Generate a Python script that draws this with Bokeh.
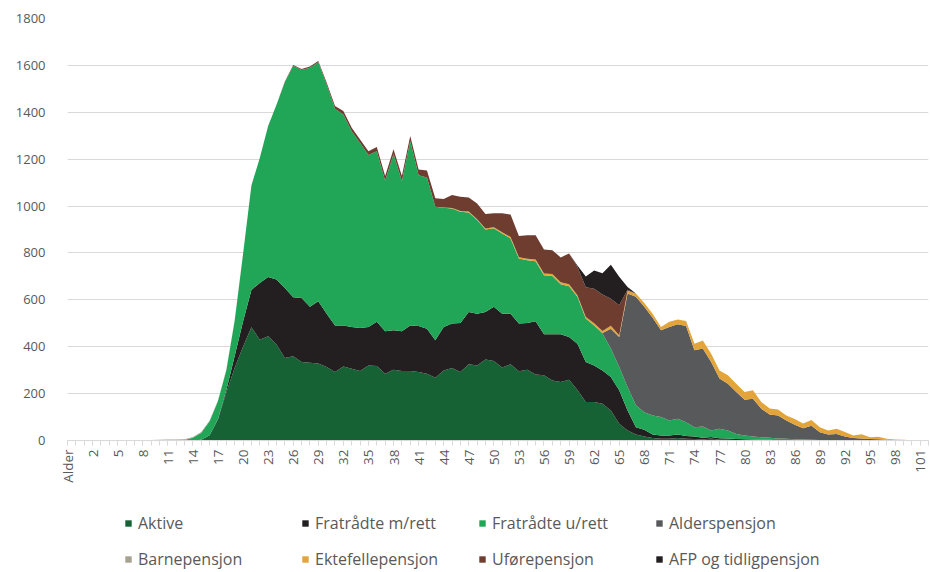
import math
from bokeh.plotting import figure
from bokeh.layouts import column
from bokeh.models import ColumnDataSource, FixedTicker, Legend, LegendItem, Range1d
from bokeh.embed import file_html
from bokeh.resources import INLINE

# Categories: "Alder" header followed by ages 0..102
categories = ["Alder"] + [str(a) for a in range(103)]

series_names = ["Aktive", "Fratrådte m/rett", "Fratrådte u/rett", "Alderspensjon",
                "Barnepensjon", "Ektefellepensjon", "Uførepensjon", "AFP og tidligpensjon"]
colors = ["#166234", "#231f20", "#21a657", "#58595b",
          "#a5a28f", "#e3a43a", "#6f3d2f", "#231f20"]

# values: first entry is the "Alder" category, then ages 0..102
aktive = [0,
          0, 0, 0, 0, 0, 0, 0, 0, 0, 0,
          0, 0, 0, 0, 0, 3, 22, 90, 205, 310,
          400, 483, 430, 445, 410, 352, 359, 335, 332, 328,
          313, 292, 316, 306, 296, 320, 318, 285, 302, 296,
          296, 292, 285, 268, 299, 309, 292, 325, 320, 345,
          339, 311, 325, 295, 302, 281, 278, 256, 249, 259,
          215, 164, 164, 157, 128, 71, 43, 26, 17, 11,
          7, 7, 11, 7, 6, 4, 8, 3, 3, 2,
          2, 1, 1, 1, 0, 0, 0, 0, 0, 0,
          0, 0, 0, 0, 0, 0, 0, 0, 0, 0,
          0, 0, 0]
fratradte_m = [0,
               0, 0, 0, 0, 0, 0, 0, 0, 0, 0,
               0, 0, 0, 0, 0, 0, 0, 2, 10, 50,
               108, 159, 242, 252, 277, 298, 252, 273, 238, 266,
               228, 199, 175, 178, 184, 164, 188, 181, 168, 170,
               195, 196, 192, 160, 185, 190, 209, 223, 221, 203,
               231, 230, 216, 204, 199, 228, 175, 197, 204, 183,
               198, 171, 156, 142, 143, 143, 85, 31, 29, 15,
               14, 14, 15, 12, 11, 8, 7, 7, 5, 4,
               3, 3, 2, 2, 1, 1, 0, 0, 0, 0,
               0, 0, 0, 0, 0, 0, 0, 0, 0, 0,
               0, 0, 0]
fratradte_u = [0,
               0, 0, 0, 0, 0, 0, 0, 0, 0, 0,
               0, 0, 0, 2, 12, 30, 60, 76, 85, 152,
               287, 446, 533, 645, 745, 878, 987, 972, 1020, 1019,
               978, 924, 900, 835, 789, 734, 728, 642, 752, 640,
               786, 643, 645, 569, 509, 491, 475, 425, 399, 352,
               335, 342, 321, 277, 268, 256, 252, 249, 214, 216,
               200, 185, 171, 157, 121, 99, 100, 93, 75, 81,
               79, 64, 67, 59, 40, 48, 28, 40, 35, 22,
               16, 13, 11, 9, 8, 6, 5, 4, 3, 2,
               2, 1, 1, 1, 0, 0, 0, 0, 0, 0,
               0, 0, 0]
alderspensjon = [0,
                 0, 0, 0, 0, 0, 0, 0, 0, 0, 0,
                 0, 0, 0, 0, 0, 0, 0, 0, 0, 0,
                 0, 0, 0, 0, 0, 0, 0, 0, 0, 0,
                 0, 0, 0, 0, 0, 0, 0, 0, 0, 0,
                 0, 0, 0, 0, 0, 0, 0, 0, 0, 0,
                 0, 0, 0, 0, 0, 0, 0, 0, 0, 0,
                 0, 0, 0, 3, 85, 128, 399, 463, 449, 417,
                 370, 399, 403, 410, 328, 332, 292, 214, 199, 179,
                 153, 161, 121, 99, 98, 78, 62, 48, 60, 33,
                 24, 27, 16, 10, 9, 6, 5, 3, 1, 1,
                 0, 0, 0]
barnepensjon = [0,
                0, 1, 1, 1, 1, 1, 2, 2, 2, 2,
                3, 4, 4, 3, 3, 3, 3, 3, 3, 2,
                2, 0, 0, 0, 0, 0, 0, 0, 0, 0,
                0, 0, 0, 0, 0, 0, 0, 0, 0, 0,
                0, 0, 0, 0, 0, 0, 0, 0, 0, 0,
                0, 0, 0, 0, 0, 0, 0, 0, 0, 0,
                0, 0, 0, 0, 0, 0, 0, 0, 0, 0,
                0, 0, 0, 0, 0, 0, 0, 0, 0, 0,
                0, 0, 0, 0, 0, 0, 0, 0, 0, 0,
                0, 0, 0, 0, 0, 0, 0, 0, 0, 0,
                0, 0, 0]
ektefellepensjon = [0,
                    0, 0, 0, 0, 0, 0, 0, 0, 0, 0,
                    0, 0, 0, 0, 0, 0, 0, 0, 0, 0,
                    0, 0, 0, 0, 0, 0, 0, 0, 0, 0,
                    0, 0, 0, 0, 0, 0, 0, 0, 0, 0,
                    0, 0, 0, 0, 1, 2, 3, 4, 4, 4,
                    5, 5, 6, 6, 6, 7, 7, 8, 8, 9,
                    7, 7, 9, 8, 12, 8, 12, 14, 17, 17,
                    14, 22, 20, 22, 28, 35, 35, 35, 36, 35,
                    33, 36, 29, 25, 25, 22, 25, 21, 24, 21,
                    17, 22, 19, 10, 18, 8, 11, 4, 3, 2,
                    1, 1, 0]
uforepensjon = [0,
                0, 0, 0, 0, 0, 0, 0, 0, 0, 0,
                0, 0, 0, 0, 0, 0, 0, 0, 0, 0,
                0, 0, 0, 0, 0, 3, 4, 5, 5, 6,
                8, 12, 14, 15, 15, 16, 18, 20, 20, 22,
                22, 25, 30, 36, 36, 55, 61, 59, 67, 62,
                59, 81, 96, 90, 101, 104, 103, 102, 106, 131,
                121, 127, 147, 156, 116, 128, 4, 0, 0, 0,
                0, 0, 0, 0, 0, 0, 0, 0, 0, 0,
                0, 0, 0, 0, 0, 0, 0, 0, 0, 0,
                0, 0, 0, 0, 0, 0, 0, 0, 0, 0,
                0, 0, 0]
afp = [0,
       0, 0, 0, 0, 0, 0, 0, 0, 0, 0,
       0, 0, 0, 0, 0, 0, 0, 0, 0, 0,
       0, 0, 0, 0, 0, 0, 0, 0, 0, 0,
       0, 0, 0, 0, 0, 0, 0, 0, 0, 0,
       0, 0, 0, 0, 0, 0, 0, 0, 0, 0,
       0, 0, 0, 0, 0, 0, 0, 0, 0, 0,
       5, 46, 78, 90, 145, 121, 12, 0, 0, 0,
       0, 0, 0, 0, 0, 0, 0, 0, 0, 0,
       0, 0, 0, 0, 0, 0, 0, 0, 0, 0,
       0, 0, 0, 0, 0, 0, 0, 0, 0, 0,
       0, 0, 0]

y_ticks = [0, 200, 400, 600, 800, 1000, 1200, 1400, 1600, 1800]

keys = ["aktive", "fr_m", "fr_u", "alder", "barne", "ektef", "ufore", "afp"]
x = list(range(len(categories)))
source = ColumnDataSource(dict(x=x, aktive=aktive, fr_m=fratradte_m, fr_u=fratradte_u,
                               alder=alderspensjon, barne=barnepensjon,
                               ektef=ektefellepensjon, ufore=uforepensjon, afp=afp))

TXT = "#595959"
GRID = "#d9d9d9"
FONT = "Open Sans"

p = figure(width=929, height=488, output_backend="svg", toolbar_location=None,
           x_range=Range1d(0, len(categories) - 1), y_range=Range1d(0, y_ticks[-1]),
           min_border_left=67, min_border_right=1, min_border_top=18, min_border_bottom=48)
p.outline_line_color = None
p.background_fill_color = "white"
p.border_fill_color = "white"

p.varea_stack(stackers=keys, x="x", color=colors, source=source)

# x axis
p.xaxis.ticker = FixedTicker(ticks=list(range(0, len(categories), 3)), minor_ticks=x)
p.xaxis.major_label_overrides = {i: categories[i] for i in range(0, len(categories), 3)}
p.xaxis.axis_line_color = GRID
p.xaxis.major_tick_line_color = GRID
p.xaxis.minor_tick_line_color = GRID
p.xaxis.major_tick_in = 0
p.xaxis.major_tick_out = 5
p.xaxis.minor_tick_in = 0
p.xaxis.minor_tick_out = 5
p.xaxis.major_label_orientation = math.pi / 2
p.xaxis.major_label_standoff = 4
p.xaxis.major_label_text_font = FONT
p.xaxis.major_label_text_font_size = "13.5px"
p.xaxis.major_label_text_color = TXT

# y axis
p.yaxis.ticker = FixedTicker(ticks=y_ticks)
p.yaxis.axis_line_color = None
p.yaxis.major_tick_line_color = None
p.yaxis.minor_tick_line_color = None
p.yaxis.major_label_standoff = 16
p.yaxis.major_label_text_font = FONT
p.yaxis.major_label_text_font_size = "13px"
p.yaxis.major_label_text_color = TXT

p.xgrid.grid_line_color = None
p.ygrid.grid_line_color = GRID
p.ygrid.grid_line_width = 1

# legend panel: a second figure whose view excludes the areas, holding only the legend
pl = figure(width=929, height=82, output_backend="svg", toolbar_location=None,
            x_range=Range1d(0, 1), y_range=Range1d(-2, -1),
            min_border=0, min_border_left=0, min_border_right=0,
            min_border_top=0, min_border_bottom=0)
pl.axis.visible = False
pl.grid.visible = False
pl.outline_line_color = None
pl.background_fill_color = "white"
pl.border_fill_color = "white"
leg_renderers = pl.varea_stack(stackers=keys, x="x", color=colors, source=source)

items = [LegendItem(label=n, renderers=[r]) for n, r in zip(series_names, leg_renderers)]
legend = Legend(items=items, location=(57, -2), orientation="horizontal", ncols=4,
                glyph_width=8, glyph_height=8, label_standoff=6, label_width=153,
                label_height=26, spacing=10, padding=0, margin=0,
                border_line_color=None, background_fill_alpha=0,
                label_text_font=FONT, label_text_font_size="16px",
                label_text_color=TXT)
pl.add_layout(legend, "center")

layout = column(p, pl, spacing=0)
open("out.html", "w").write(file_html(layout, INLINE))
